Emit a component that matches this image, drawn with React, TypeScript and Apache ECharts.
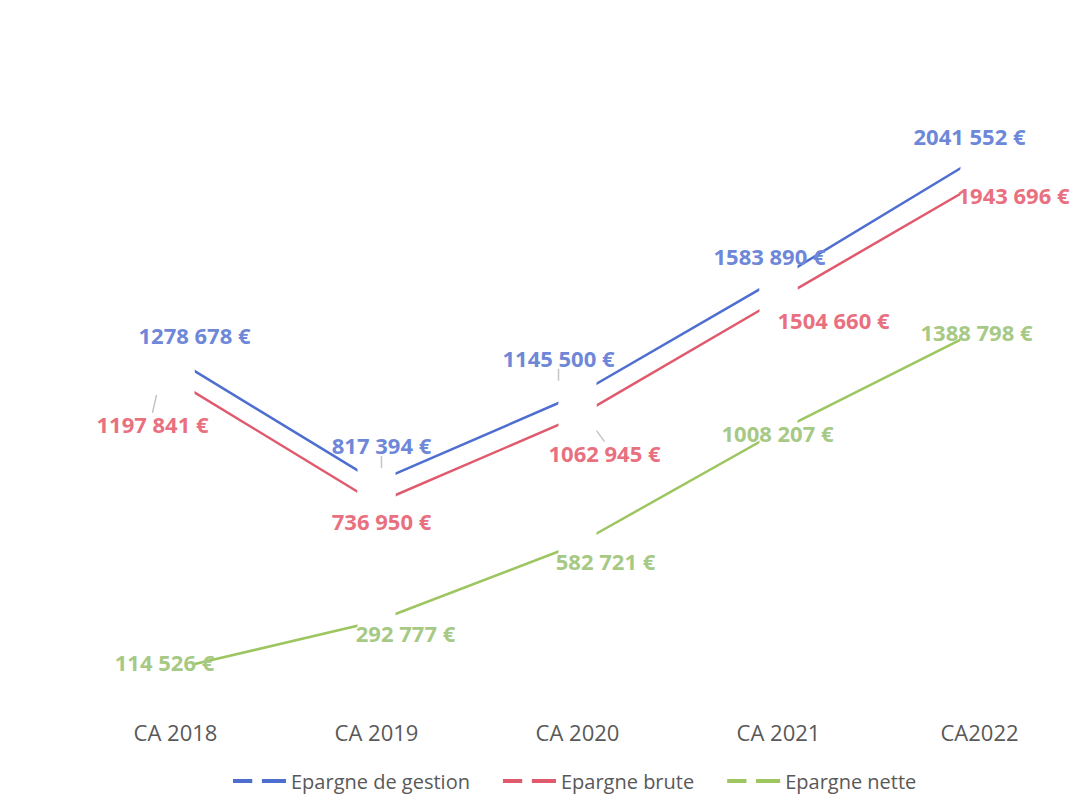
import React, { useEffect, useRef } from "react";
import * as echarts from "echarts";

const categories = ["CA 2018", "CA 2019", "CA 2020", "CA 2021", "CA2022"];
const seriesNames = ["Epargne de gestion", "Epargne brute", "Epargne nette"];
const gestion = [1278678, 817394, 1145500, 1583890, 2041552];
const brute = [1197841, 736950, 1062945, 1504660, 1943696];
const nette = [114526, 292777, 582721, 1008207, 1388798];

// label offsets (dx, dy) relative to each point, and which labels have leader lines
const labelOffsets = [
  [[19, -24], [5, -37], [-19, -37], [-9, -22], [-10, -21]],
  [[-23, 43], [5, 18], [27, 36], [55, 21], [34, 12]],
  [[-11, -7], [29, 12], [28, 17], [-1, 2], [-3, 2]],
];
const leaders = [
  [false, true, true, false, false],
  [true, false, true, false, false],
  [false, false, false, false, false],
];

const lineColors = ["#4f6fd0", "#e05a6e", "#9dc560"];
const labelColors = ["#6e87d8", "#e9707f", "#a6c985"];

const fmt = (v: number) => {
  const hi = Math.floor(v / 1000);
  const lo = String(v % 1000).padStart(3, "0");
  return `${hi} ${lo} €`;
};

export default function App() {
  const ref = useRef<HTMLDivElement>(null);
  useEffect(() => {
    if (!ref.current) return;
    const chart = echarts.init(ref.current, undefined, { renderer: "svg" });
    const all = [gestion, brute, nette];
    const series = all.map((vals, si) => ({
      name: seriesNames[si],
      type: "line",
      data: vals.map((v, di) => ({
        value: v,
        labelLine: {
          show: leaders[si][di],
          lineStyle: { color: "#c4c4c4", width: 1.5 },
        },
      })),
      symbol: "rect",
      symbolSize: [38, 28],
      showAllSymbol: true,
      itemStyle: { color: "#ffffff", borderWidth: 0, opacity: 1 },
      lineStyle: { color: lineColors[si], width: 2.5 },
      silent: true,
      label: {
        show: true,
        position: "inside",
        formatter: (p: any) => fmt(p.value),
        color: labelColors[si],
        fontFamily: "Open Sans",
        fontWeight: "bold",
        fontSize: 22,
      },
      labelLayout: (p: any) => {
        const o = labelOffsets[p.seriesIndex][p.dataIndex];
        return { dx: o[0], dy: o[1] };
      },
      z: 2,
    }));
    chart.setOption({
      animation: false,
      backgroundColor: "#ffffff",
      color: lineColors,
      grid: { left: 75, width: 1011, top: 35, bottom: 96 },
      xAxis: {
        type: "category",
        data: categories,
        boundaryGap: true,
        axisLine: { show: false },
        axisTick: { show: false },
        axisLabel: {
          color: "#595959",
          fontFamily: "Open Sans",
          fontSize: 22,
          margin: 22,
        },
      },
      yAxis: {
        type: "value",
        min: 0,
        max: 2500000,
        show: false,
        splitLine: { show: false },
      },
      legend: {
        left: 228,
        top: 766,
        itemWidth: 53,
        itemHeight: 4,
        itemGap: 33,
        icon: "path://M0 0h20v4h-20z M30 0h25v4h-25z",
        data: seriesNames.map((n, i) => ({
          name: n,
          itemStyle: { color: lineColors[i], borderWidth: 0 },
        })),
        textStyle: { color: "#595959", fontFamily: "Open Sans", fontSize: 20 },
      },
      series,
    });
    return () => chart.dispose();
  }, []);
  return (
    <div
      ref={ref}
      style={{ position: "fixed", left: 0, top: 0, width: 1080, height: 795 }}
    />
  );
}
